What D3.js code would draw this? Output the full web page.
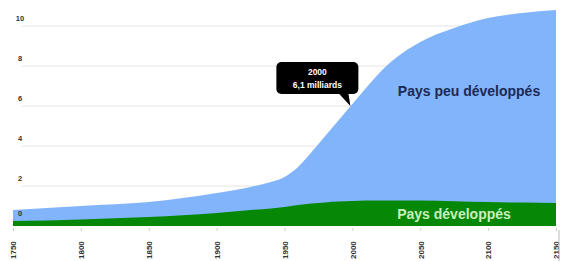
<html>
<script src="https://cdnjs.cloudflare.com/ajax/libs/d3/7.8.5/d3.min.js"></script>
<style>
body { margin: 0; background: #fff; }
text { font-family: "Liberation Sans", Arial, sans-serif; font-weight: bold; }
</style>
<body>
<svg width=564 height=261></svg>
<script>
// population mondiale (milliards)
var years = [1750, 1800, 1850, 1900, 1925, 1940, 1950, 1960, 1970, 1980, 1990, 2000, 2010, 2025, 2050, 2075, 2100, 2125, 2150];
var total = [0.8, 1.0, 1.2, 1.65, 1.95, 2.2, 2.45, 2.95, 3.7, 4.5, 5.3, 6.1, 6.9, 8.0, 9.2, 9.9, 10.4, 10.65, 10.8];
var developed = [0.25, 0.33, 0.45, 0.65, 0.8, 0.88, 0.95, 1.05, 1.12, 1.18, 1.22, 1.25, 1.27, 1.28, 1.27, 1.24, 1.2, 1.17, 1.15];
var xTicks = [1750, 1800, 1850, 1900, 1950, 2000, 2050, 2100, 2150];
var yTicks = [0, 2, 4, 6, 8, 10];

var svg = d3.select("svg");

var x = d3.scaleLinear().domain([1750, 2150]).range([13, 556]);
var y = d3.scaleLinear().domain([0, 10]).range([226, 26]);

var data = years.map(function(yr, i) { return {year: yr, total: total[i], dev: developed[i]}; });

// grille
svg.append("g").selectAll("line")
  .data(yTicks.filter(function(d) { return d > 0; }))
  .enter().append("line")
  .attr("x1", 22).attr("x2", 556)
  .attr("y1", function(d) { return y(d); })
  .attr("y2", function(d) { return y(d); })
  .attr("stroke", "#e4e4e4").attr("stroke-width", 1);

var area = function(key) {
  return d3.area()
    .curve(d3.curveMonotoneX)
    .x(function(d) { return x(d.year); })
    .y0(y(0))
    .y1(function(d) { return y(d[key]); });
};

svg.append("path").datum(data)
  .attr("fill", "#82b4fb")
  .attr("d", area("total"));

svg.append("path").datum(data)
  .attr("fill", "#068706")
  .attr("d", area("dev"));

// axe Y
svg.append("g").selectAll("text")
  .data(yTicks).enter().append("text")
  .attr("x", 20).attr("y", function(d) { return y(d) - (d == 0 ? 10 : 5); })
  .attr("text-anchor", "middle")
  .attr("font-size", 7.5)
  .attr("fill", "#333")
  .text(function(d) { return d; });

// axe X
var xAxis = svg.append("g")
  .attr("transform", "translate(0," + (y(0) + 2) + ")")
  .call(d3.axisBottom(x).tickValues(xTicks).tickSize(3).tickFormat(d3.format("d")));
xAxis.select(".domain").remove();
xAxis.selectAll(".tick line").attr("stroke", "#ccc");
xAxis.selectAll(".tick text")
  .attr("transform", "rotate(-90)")
  .attr("text-anchor", "start")
  .attr("x", -31).attr("y", 0).attr("dy", "0.35em")
  .attr("font-size", 8)
  .attr("font-family", "Liberation Sans, Arial, sans-serif")
  .attr("font-weight", "bold")
  .attr("fill", "#333");

svg.append("line")
  .attr("x1", 559).attr("x2", 559).attr("y1", 230).attr("y2", 261)
  .attr("stroke", "#bbb");

// étiquettes des séries
svg.append("text")
  .attr("x", 469).attr("y", 96)
  .attr("text-anchor", "middle")
  .attr("font-size", 14)
  .attr("fill", "#1a2a55")
  .text("Pays peu développés");

svg.append("text")
  .attr("x", 454).attr("y", 219)
  .attr("text-anchor", "middle")
  .attr("font-size", 14)
  .attr("fill", "#c8f0c0")
  .text("Pays développés");

// bulle 2000
var px = x(2000), py = y(6.1) + 2;
var callout = svg.append("g");
callout.append("rect")
  .attr("x", px - 76).attr("y", py - 44)
  .attr("width", 82).attr("height", 32)
  .attr("rx", 5)
  .attr("fill", "#000");
callout.append("path")
  .attr("d", "M" + (px - 14) + "," + (py - 13) + "L" + (px - 2) + "," + py + "L" + (px - 4) + "," + (py - 13) + "Z")
  .attr("fill", "#000");
callout.append("text")
  .attr("x", px - 35).attr("y", py - 31)
  .attr("text-anchor", "middle")
  .attr("font-size", 8.5).attr("fill", "#fff")
  .text("2000");
callout.append("text")
  .attr("x", px - 35).attr("y", py - 18)
  .attr("text-anchor", "middle")
  .attr("font-size", 8.5).attr("fill", "#fff")
  .text("6,1 milliards");
</script>
</body>
</html>
